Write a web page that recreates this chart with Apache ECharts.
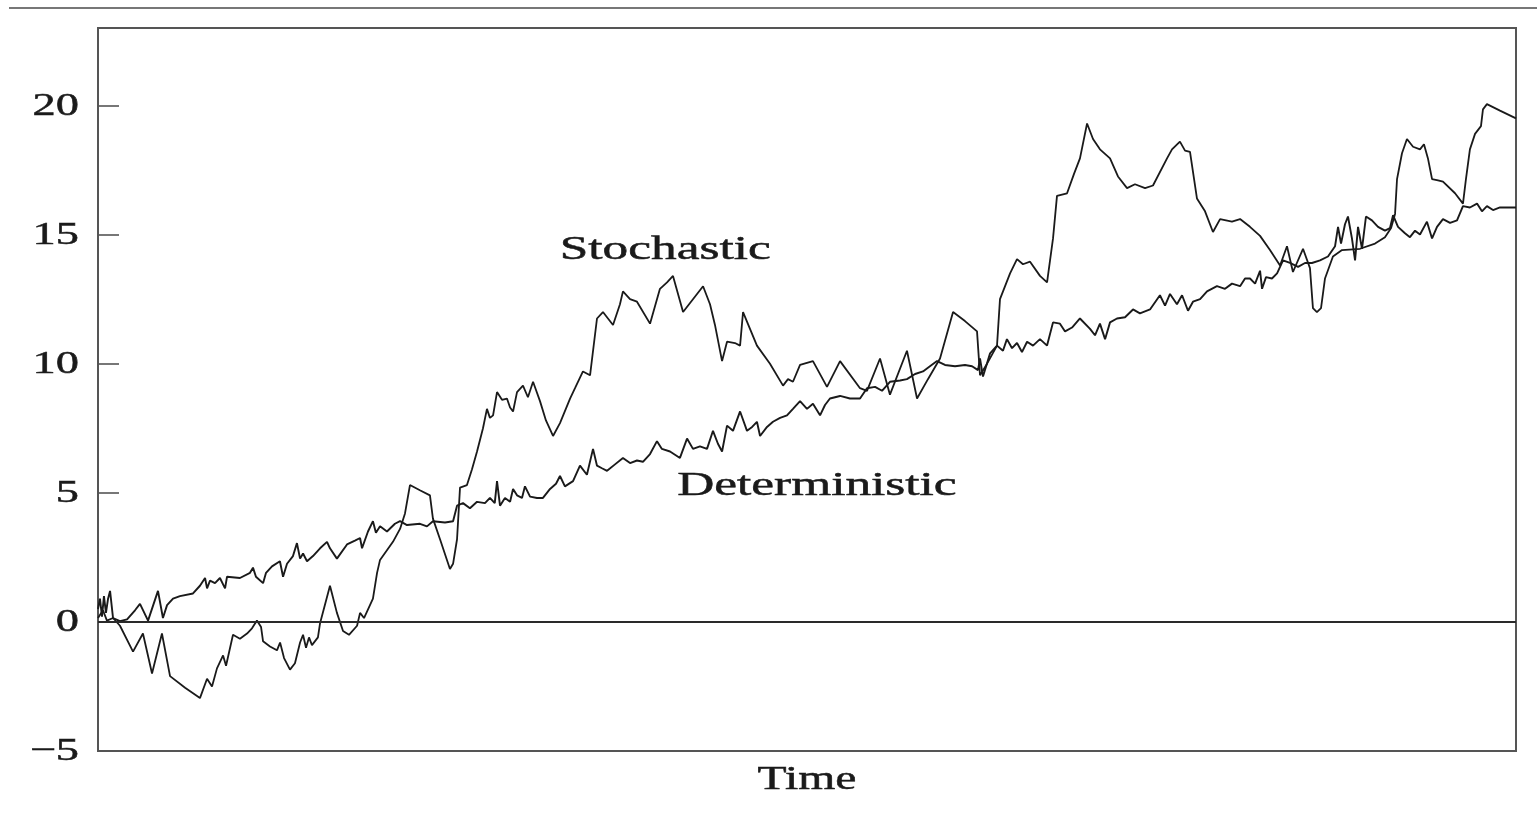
<!DOCTYPE html>
<html>
<head>
<meta charset="utf-8">
<script src="https://cdn.jsdelivr.net/npm/echarts@6/dist/echarts.min.js"></script>
<style>
html,body{margin:0;padding:0;background:#fff;}
#chart{width:1537px;height:828px;}
</style>
</head>
<body>
<div id="chart"></div>
<script>
// ---- data ----
const yTickValues = [20, 15, 10, 5, 0, -5];
const yTickLabels = ['20', '15', '10', '5', '0', '\u22125'];
const xAxisName = 'Time';
const seriesNames = ['Stochastic', 'Deterministic'];

const stochTime = [0,0.35,0.63,1.06,1.55,2.47,3.17,3.81,4.51,5.08,6.14,7.19,7.69,8.04,8.39,8.82,9.03,9.52,10.01,10.51,10.86,11.21,11.5,11.64,12.13,12.62,12.84,13.12,13.54,13.89,14.25,14.46,14.67,14.88,15.09,15.51,15.66,16.36,16.85,17.28,17.7,18.27,18.48,18.76,19.39,19.68,19.89,20.8,21.3,21.65,22.0,22.7,23.41,23.62,24.12,24.82,25.04,25.32,25.53,26.02,26.37,26.73,27.15,27.43,27.64,27.86,28.14,28.49,28.84,29.06,29.27,29.55,29.97,30.32,30.68,31.17,31.59,32.09,32.58,33.29,33.64,34.2,34.7,35.19,35.61,36.32,36.81,37.02,37.52,38.01,38.93,39.63,40.13,40.55,41.26,42.67,43.16,43.51,44.01,44.36,44.92,45.28,45.49,45.98,46.47,47.39,48.31,48.66,49.01,49.51,50.42,51.41,52.33,53.74,54.23,55.15,55.85,57.05,57.76,58.53,59.38,60.3,61.14,61.99,62.2,62.7,63.4,63.61,64.32,64.81,65.23,65.73,66.43,66.93,67.35,67.63,68.34,68.83,69.25,69.75,70.17,70.66,71.37,71.93,72.57,73.13,73.84,74.4,75.39,75.74,76.3,76.66,77.01,77.5,78.07,78.63,79.13,79.97,80.54,81.24,81.95,82.65,83.36,83.85,84.27,84.98,85.47,85.68,85.96,86.25,86.53,87.09,87.73,89.0,90.06,90.76,91.19,91.47,91.61,91.96,92.31,92.74,93.23,93.51,93.79,94.08,94.5,94.85,95.7,96.26,96.47,96.75,97.11,97.53,97.67,97.95,98.87,100];
const stochValue = [0.15,0.45,0.05,0.15,-0.15,-1.15,-0.45,-2.0,-0.45,-2.1,-2.55,-2.95,-2.2,-2.5,-1.8,-1.3,-1.7,-0.5,-0.65,-0.45,-0.25,0.05,-0.2,-0.75,-0.95,-1.1,-0.8,-1.4,-1.85,-1.6,-0.8,-0.5,-1.0,-0.6,-0.9,-0.6,-0.05,1.4,0.35,-0.35,-0.5,-0.15,0.35,0.15,0.9,1.9,2.4,3.1,3.6,4.2,5.3,5.1,4.9,4.0,3.2,2.05,2.25,3.2,5.2,5.3,5.9,6.6,7.5,8.25,7.9,8.0,8.9,8.6,8.65,8.3,8.15,8.9,9.15,8.7,9.3,8.55,7.8,7.2,7.7,8.65,9.05,9.7,9.55,11.75,12.0,11.5,12.3,12.8,12.5,12.4,11.55,12.9,13.15,13.4,12.0,13.0,12.3,11.5,10.1,10.85,10.8,10.7,12.0,11.35,10.7,10.0,9.15,9.4,9.3,9.95,10.1,9.1,10.1,9.05,8.95,10.2,8.8,10.5,8.65,9.4,10.2,12.0,11.65,11.25,9.55,10.0,10.7,12.5,13.5,14.05,13.85,13.95,13.4,13.15,14.85,16.5,16.6,17.35,17.95,19.3,18.7,18.3,17.95,17.25,16.8,16.95,16.8,16.9,17.95,18.3,18.6,18.25,18.2,16.4,15.9,15.1,15.6,15.5,15.6,15.3,14.95,14.4,13.8,14.55,13.55,14.45,13.7,12.15,12.0,12.15,13.3,14.15,14.4,14.45,14.65,14.9,15.25,15.8,17.15,18.15,18.7,18.4,18.3,18.5,17.95,17.15,17.1,17.05,16.6,16.2,17.15,18.3,18.9,19.2,19.85,20.05,19.8,19.5];

const detTime = [0,0.14,0.28,0.42,0.56,0.71,0.85,1.06,1.55,2.05,2.61,2.96,3.53,4.23,4.58,4.87,5.29,5.78,6.7,7.19,7.55,7.69,7.9,8.25,8.6,8.96,9.1,10.01,10.72,10.93,11.14,11.64,11.85,12.27,12.83,13.05,13.33,13.75,14.03,14.25,14.46,14.74,15.16,15.66,16.15,16.36,16.85,17.56,18.12,18.48,18.62,19.04,19.39,19.6,19.89,20.38,20.94,21.3,21.79,22.71,23.2,23.62,24.47,25.04,25.32,25.74,26.23,26.73,27.29,27.64,27.98,28.14,28.35,28.7,29.06,29.27,29.55,29.9,30.11,30.47,30.96,31.38,31.88,32.3,32.58,32.93,33.5,33.99,34.48,34.91,35.19,35.54,35.9,36.46,37.02,37.52,38.01,38.43,38.93,39.42,39.77,40.34,41.04,41.54,41.96,42.45,42.95,43.37,43.72,44.01,44.36,44.78,45.28,45.77,46.13,46.47,46.69,47.18,47.6,48.1,48.59,49.01,49.51,50.0,50.42,50.92,51.27,51.62,52.33,53.03,53.74,54.23,54.8,55.29,55.85,56.56,57.05,57.62,58.18,58.67,59.17,59.73,60.44,61.14,61.64,62.06,62.2,62.41,62.91,63.4,63.82,64.1,64.46,64.81,65.16,65.52,65.94,66.43,66.93,67.35,67.84,68.2,68.69,69.25,69.96,70.31,70.66,71.02,71.37,71.86,72.43,72.99,73.48,74.19,74.89,75.25,75.6,76.09,76.45,76.87,77.22,77.72,78.21,78.91,79.48,79.97,80.54,80.89,81.24,81.6,81.95,82.09,82.37,82.79,83.15,83.57,84.06,84.63,85.12,85.61,86.18,86.74,87.24,87.45,87.66,87.94,88.15,88.43,88.65,88.86,89.14,89.42,89.84,90.27,90.76,91.11,91.33,91.68,92.17,92.52,92.88,93.23,93.72,94.08,94.43,94.85,95.35,95.84,96.26,96.75,97.25,97.6,97.95,98.38,98.87,100];
const detValue = [0.5,0.9,0.2,1.0,0.35,0.9,1.2,0.15,0.03,0.1,0.45,0.7,0.05,1.2,0.15,0.65,0.9,1.0,1.1,1.4,1.7,1.3,1.6,1.5,1.7,1.3,1.75,1.7,1.9,2.1,1.75,1.5,1.9,2.15,2.35,1.75,2.25,2.55,3.05,2.45,2.65,2.35,2.55,2.85,3.1,2.85,2.45,3.0,3.15,3.25,2.85,3.5,3.9,3.45,3.7,3.5,3.8,3.9,3.75,3.8,3.7,3.9,3.85,3.9,4.5,4.6,4.4,4.65,4.6,4.8,4.6,5.45,4.5,4.8,4.65,5.15,4.9,4.8,5.25,4.85,4.8,4.8,5.15,5.35,5.65,5.25,5.45,6.05,5.7,6.7,6.05,5.95,5.85,6.1,6.35,6.15,6.25,6.2,6.5,7.0,6.7,6.6,6.35,7.1,6.7,6.8,6.7,7.4,6.9,6.6,7.6,7.4,8.15,7.4,7.55,7.75,7.2,7.55,7.75,7.9,8.0,8.25,8.55,8.25,8.45,8.0,8.4,8.65,8.75,8.65,8.65,9.05,9.1,8.95,9.3,9.35,9.4,9.6,9.7,9.9,10.1,9.95,9.9,9.95,9.9,9.75,10.2,9.5,10.4,10.7,10.5,10.95,10.6,10.8,10.45,10.85,10.7,10.95,10.7,11.6,11.55,11.25,11.4,11.75,11.35,11.1,11.55,10.95,11.6,11.75,11.8,12.1,11.95,12.1,12.65,12.25,12.7,12.3,12.65,12.05,12.4,12.5,12.8,13.0,12.9,13.1,13.0,13.3,13.3,13.1,13.6,12.9,13.35,13.3,13.5,14.0,13.9,13.75,13.9,13.9,14.0,14.15,14.55,15.3,14.65,15.4,15.7,14.85,14.0,15.3,14.45,15.7,15.55,15.3,15.15,15.25,15.75,15.3,15.05,14.9,15.15,15.0,15.5,14.85,15.3,15.6,15.45,15.55,16.1,16.05,16.2,15.9,16.1,15.95,16.05,16.05];

const stochData = stochTime.map((t, i) => [t, stochValue[i]]);
const detData = detTime.map((t, i) => [t, detValue[i]]);

const chart = echarts.init(document.getElementById('chart'), null, {renderer: 'canvas'});
const serif = '"Liberation Serif", "Times New Roman", serif';

chart.setOption({
  animation: false,
  backgroundColor: '#ffffff',
  grid: {left: 98, top: 28, right: 21, bottom: 77, show: true, borderColor: '#555', borderWidth: 2, backgroundColor: 'transparent'},
  xAxis: {
    type: 'value', min: 0, max: 100,
    axisLine: {show: false}, axisTick: {show: false}, axisLabel: {show: false}, splitLine: {show: false}
  },
  yAxis: {
    type: 'value', min: -5, max: 23, interval: 5,
    axisLine: {show: false},
    axisTick: {show: true, inside: true, length: 21, lineStyle: {color: '#555', width: 1.6}},
    axisLabel: {show: false},
    splitLine: {show: false}
  },
  series: [
    {
      name: seriesNames[0], type: 'line', data: stochData, showSymbol: false, symbol: 'none',
      lineStyle: {color: '#1a1a1a', width: 1.8}, z: 3
    },
    {
      name: seriesNames[1], type: 'line', data: detData, showSymbol: false, symbol: 'none',
      lineStyle: {color: '#1a1a1a', width: 1.9}, z: 3,
      markLine: {
        silent: true, symbol: 'none', label: {show: false},
        lineStyle: {color: '#2a2a2a', width: 1.8, type: 'solid'},
        data: [{yAxis: 0}]
      }
    }
  ]
});

function textStyle(txt, size, align) {
  return {text: txt, font: size + 'px ' + serif, fill: '#1a1a1a', stroke: '#1a1a1a', lineWidth: 0.5, align: align, verticalAlign: 'middle'};
}

function build() {
  const g = [];
  // top rule
  g.push({type: 'line', shape: {x1: 9, y1: 8, x2: 1537, y2: 8}, style: {stroke: '#777', lineWidth: 2}, silent: true});
  // y tick labels
  yTickValues.forEach((v, i) => {
    const p = chart.convertToPixel({gridIndex: 0}, [0, v]);
    g.push({type: 'text', x: 79, y: p[1] + 1, scaleX: 1.45, silent: true, style: textStyle(yTickLabels[i], 32, 'right')});
  });
  // axis name
  const xl = chart.convertToPixel({gridIndex: 0}, [50, -5]);
  g.push({type: 'text', x: xl[0], y: 780, scaleX: 1.4, silent: true, style: textStyle(xAxisName, 34, 'center')});
  // series annotations
  const a1 = chart.convertToPixel({gridIndex: 0}, [40.0, 14.4]);
  g.push({type: 'text', x: a1[0], y: a1[1], scaleX: 1.51, silent: true, style: textStyle(seriesNames[0], 34, 'center')});
  const a2 = chart.convertToPixel({gridIndex: 0}, [50.7, 5.27]);
  g.push({type: 'text', x: a2[0], y: a2[1], scaleX: 1.51, silent: true, style: textStyle(seriesNames[1], 34, 'center')});
  chart.setOption({graphic: g});
}
build();
</script>
</body>
</html>
